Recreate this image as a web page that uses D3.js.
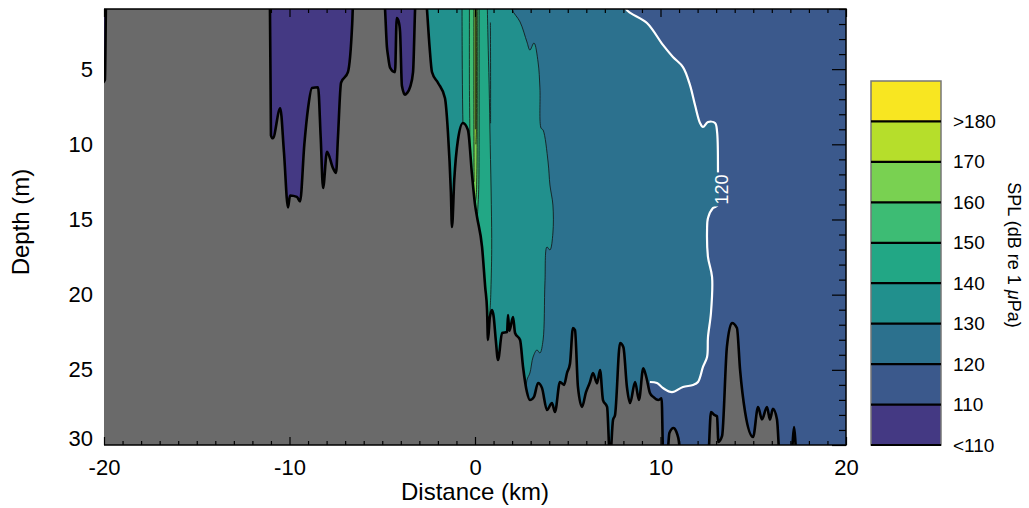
<!DOCTYPE html>
<html><head><meta charset="utf-8">
<script src="https://cdn.jsdelivr.net/npm/d3@7"></script>
<style>
body{margin:0;background:#fff}
svg{display:block}
text{font-family:"Liberation Sans",Arial,Helvetica,sans-serif;fill:#000}
</style>
</head><body>
<svg id="chart" width="1029" height="508"></svg>
<script>
// ---------------- data ----------------
const distanceTicks = [-20, -10, 0, 10, 20];
const distanceMinorTicks = [-19,-18,-17,-16,-15,-14,-13,-12,-11,-9,-8,-7,-6,-5,-4,-3,-2,-1,1,2,3,4,5,6,7,8,9,11,12,13,14,15,16,17,18,19];
const depthTicks = [5, 10, 15, 20, 25, 30];
const depthMinorTicks = [1,2,3,4,6,7,8,9,11,12,13,14,16,17,18,19,21,22,23,24,26,27,28,29];
const colorbarLabels = ["<110", "110", "120", "130", "140", "150", "160", "170", ">180"];
const bandColors = ["#443983", "#3b598c", "#2c718e", "#21908d", "#22a785", "#3dbc74", "#79d151", "#b6de2b", "#f8e621"];

// seabed depth (m) along distance (km); 0 = land / above water, 31 = below plotted range
const bathymetry = [
  [-20.05,5.9],[-19.95,5.7],[-19.88,0],
  [-11.06,0],[-11.0,9.4],[-10.9,9.6],[-10.5,7.6],[-10.3,10.5],[-10.08,14.2],[-9.97,13.4],[-9.6,13.5],[-9.43,13.8],[-9.2,10.0],[-9.0,7.6],[-8.79,6.25],[-8.46,6.2],[-8.32,9.5],[-8.19,12.9],[-7.98,10.5],[-7.65,11.6],[-7.49,11.9],[-7.39,9.6],[-7.22,5.9],[-6.85,5.2],[-6.62,2.0],[-6.55,0],
  [-4.9,0],[-4.85,1.0],[-4.75,3.5],[-4.69,4.1],[-4.58,4.9],[-4.31,5.2],[-4.22,1.6],[-4.12,1.8],[-4.04,2.5],[-3.94,6.1],[-3.77,6.7],[-3.67,6.6],[-3.5,6.2],[-3.34,5.2],[-3.23,1.0],[-3.2,0],
  [-2.65,0],[-2.59,1.0],[-2.45,3.5],[-2.32,5.19],[-1.99,5.92],[-1.62,6.92],[-1.46,9.18],[-1.3,13.2],[-1.24,15.5],[-1.12,12.4],[-0.92,9.71],[-0.65,8.58],[-0.38,9.05],[-0.16,12.04],[0.0,14.0],[0.11,14.84],[0.38,16.83],[0.55,19.5],[0.65,21.02],[0.70,23.02],[0.80,21.5],[0.92,21.02],[1.0,21.4],[1.12,23.0],[1.24,24.35],[1.46,22.55],[1.73,22.48],[1.78,21.35],[1.85,22.4],[2.05,21.49],[2.16,22.55],[2.43,23.02],[2.59,24.81],[2.80,26.48],[2.96,27.01],[3.18,26.8],[3.40,25.88],[3.61,26.2],[3.88,27.67],[4.15,27.21],[4.31,27.81],[4.58,25.81],[4.80,26.0],[4.96,25.21],[5.12,24.6],[5.28,22.22],[5.39,22.35],[5.55,26.14],[5.77,27.47],[5.98,26.5],[6.20,25.81],[6.36,25.21],[6.58,25.9],[6.74,25.01],[6.90,27.01],[7.12,27.47],[7.28,31],[7.44,28.34],[7.55,28.0],[7.82,23.22],[8.0,23.5],[8.19,26.14],[8.36,27.21],[8.63,25.81],[8.84,27.0],[9.07,24.9],[9.25,25.56],[9.43,26.54],[9.61,26.8],[9.88,27.01],[10.06,26.9],[10.15,31],[10.38,30.5],[10.48,29.2],[10.70,28.87],[10.85,29.1],[10.96,29.54],[11.14,31],
  [12.56,31],[12.72,27.81],[12.9,28.0],[13.05,28.1],[13.12,29.8],[13.32,29.4],[13.58,23.48],[13.85,21.89],[14.12,22.22],[14.29,25.01],[14.56,27.81],[14.99,29.47],[15.26,27.47],[15.47,28.3],[15.74,27.47],[15.90,28.3],[16.06,27.6],[16.28,28.3],[16.44,31],[16.98,31],[17.1,30.2],[17.20,28.8],[17.30,30.2],[17.41,31],[20.5,31]
];

// contour lines [distance km, depth m]
const contour120 = [[8.05,0],[8.14,1.0],[9.27,1.93],[10.13,3.39],[10.67,4.19],[11.21,4.86],[11.59,6.06],[11.86,7.39],[12.13,8.58],[12.29,8.85],[12.56,8.52],[12.94,8.58],[13.05,9.18],[13.10,11.84],[13.10,14.04],[12.83,14.24],[12.56,14.90],[12.51,15.70],[12.56,17.50],[12.78,18.83],[12.72,21.22],[12.56,22.82],[12.51,24.15],[12.29,24.81],[12.02,25.81],[11.75,26.01],[11.21,26.14],[10.62,26.48],[10.13,26.21],[9.81,25.88],[9.43,25.81]];
const contour130 = [[1.95,0],[1.99,1.0],[2.43,1.86],[2.80,3.19],[2.96,3.73],[3.18,3.26],[3.40,4.53],[3.50,6.25],[3.56,8.92],[3.67,9.05],[3.94,11.18],[4.04,12.71],[4.20,14.04],[4.20,15.90],[4.04,17.03],[3.88,16.83],[3.77,19.23],[3.67,23.02],[3.50,23.88],[3.34,23.68],[3.13,24.15],[2.96,25.21],[2.80,25.68],[2.72,27],[2.7,31]];
const contour140Left  = [[-0.70,0],[-0.69,4],[-0.66,8],[-0.60,11],[-0.55,16]];
const contour140Right = [[0.65,0],[0.70,3],[0.76,6],[0.82,10],[0.88,14],[0.9,17],[0.85,20],[0.8,21.5],[0.78,31]];
const contour140Sliver = [[0.83,1.9],[0.84,5],[0.84,8.6]];
const contour150Left  = [[-0.30,0],[-0.30,6],[-0.28,9],[-0.27,12]];
const contour150Right = [[0.22,0],[0.22,6],[0.22,10],[0.2,13],[0.15,14.3],[0.1,15.5]];
const contour160Left  = [[-0.06,0],[-0.06,8],[-0.05,12.5]];
const contour160Right = [[0.12,0],[0.12,8],[0.1,12],[0.06,13.5],[0.0,14]];
const contour170Left  = [[0.02,0],[0.02,9]];
const contour170Right = [[0.07,0],[0.07,9],[0.045,10]];
const label120 = [13.3, 13.0];

// ---------------- layout ----------------
const svg = d3.select("#chart");
const L = 104, R = 846, T = 9, B = 445;
const x = d3.scaleLinear().domain([-20, 20]).range([L, R]);
const y = d3.scaleLinear().domain([1, 30]).range([T, B]);
const line = d3.line().x(d => x(d[0])).y(d => y(d[1])).curve(d3.curveCatmullRom.alpha(0.5));
const poly = pts => line(pts) + "Z";

const defs = svg.append("defs");
defs.append("clipPath").attr("id", "clip")
  .append("rect").attr("x", L).attr("y", T).attr("width", R - L).attr("height", B - T);
const mask = defs.append("mask").attr("id", "lblmask").attr("maskUnits", "userSpaceOnUse");
mask.append("rect").attr("x", 0).attr("y", 0).attr("width", 1029).attr("height", 508).attr("fill", "#fff");
mask.append("rect").attr("x", x(label120[0]) - 10).attr("y", y(label120[1]) - 17)
  .attr("width", 20).attr("height", 34).attr("fill", "#000");

const plot = svg.append("g").attr("clip-path", "url(#clip)");

// base band 110-120
plot.append("rect").attr("x", L).attr("y", T).attr("width", R - L).attr("height", B - T).attr("fill", bandColors[1]);
// < 110 (left basins)
plot.append("path").attr("d", d3.line().x(d => x(d[0])).y(d => y(d[1]))([[-20.5,0],[-2.9,0],[-2.9,31],[-20.5,31]]) + "Z").attr("fill", bandColors[0]);
// 120-130
plot.append("path").attr("d", poly([[-2.9,0]].concat(contour120, [[9.43,31],[-2.9,31]]))).attr("fill", bandColors[2]);
// 130-140
plot.append("path").attr("d", poly([[-2.9,0]].concat(contour130, [[-2.9,31]]))).attr("fill", bandColors[3]);
// 140-150 .. 170-180
const inner = [
  [contour140Left, contour140Right, bandColors[4]],
  [contour150Left, contour150Right, bandColors[5]],
  [contour160Left, contour160Right, bandColors[6]],
  [contour170Left, contour170Right, bandColors[7]]
];
inner.forEach(([l, r, c]) => {
  plot.append("path").attr("d", poly(l.concat(r.slice().reverse()))).attr("fill", c);
});
// thin black contour lines
[contour130, contour140Left, contour140Right, contour140Sliver, contour150Left, contour150Right, contour160Left, contour160Right, contour170Left, contour170Right]
  .forEach(c => plot.append("path").attr("d", line(c)).attr("fill", "none").attr("stroke", "#111").attr("stroke-width", 0.8));

// ticks on top and right (under seabed)
const topAxis = svg.append("g").attr("transform", `translate(0,${T})`);
topAxis.append("g").call(d3.axisTop(x).tickValues(distanceTicks).tickSize(-8).tickFormat(""));
topAxis.append("g").call(d3.axisTop(x).tickValues(distanceMinorTicks).tickSize(-4).tickFormat(""));
const rightAxis = svg.append("g").attr("transform", `translate(${R},0)`);
rightAxis.append("g").call(d3.axisRight(y).tickValues(depthTicks).tickSize(-14).tickFormat(""));
rightAxis.append("g").call(d3.axisRight(y).tickValues(depthMinorTicks).tickSize(-7).tickFormat(""));
[topAxis, rightAxis].forEach(a => { a.selectAll(".domain").remove(); a.selectAll("line").attr("stroke", "#000").attr("stroke-width", 1.2); });

// seabed
const plot2 = svg.append("g").attr("clip-path", "url(#clip)");
plot2.append("path")
  .attr("d", d3.area().x(d => x(d[0])).y0(y(31)).y1(d => y(d[1])).curve(d3.curveMonotoneX)(bathymetry))
  .attr("fill", "#6a6a6a");
plot2.append("path").attr("d", d3.line().x(d => x(d[0])).y(d => y(d[1])).curve(d3.curveMonotoneX)(bathymetry))
  .attr("fill", "none").attr("stroke", "#000").attr("stroke-width", 2.6).attr("stroke-linejoin", "round");

// 120 dB contour (white) with label
plot2.append("path").attr("d", line(contour120)).attr("fill", "none")
  .attr("stroke", "#fff").attr("stroke-width", 2.2).attr("mask", "url(#lblmask)");
plot2.append("text")
  .attr("transform", `translate(${x(label120[0])},${y(label120[1])}) rotate(-90)`)
  .attr("text-anchor", "middle").attr("dominant-baseline", "central")
  .style("fill", "#fff").style("font-size", "18px").text("120");

// bottom axis
const bottomAxis = svg.append("g").attr("transform", `translate(0,${B})`);
bottomAxis.append("g").call(d3.axisBottom(x).tickValues(distanceMinorTicks).tickSize(-4).tickFormat(""));
bottomAxis.append("g").call(d3.axisBottom(x).tickValues(distanceTicks).tickSize(-8).tickPadding(14).tickFormat(d => String(d)));
bottomAxis.selectAll(".domain").remove();
bottomAxis.selectAll("line").attr("stroke", "#000").attr("stroke-width", 1.2);
bottomAxis.selectAll("text").style("font-size", "22px").style("font-family", "'Liberation Sans',Arial,sans-serif");

// left labels
const leftAxis = svg.append("g").attr("transform", `translate(${L},0)`)
  .call(d3.axisLeft(y).tickValues(depthTicks).tickSize(0).tickPadding(11).tickFormat(d => String(d)));
leftAxis.selectAll(".domain").remove();
leftAxis.selectAll("text").style("font-size", "22px").style("font-family", "'Liberation Sans',Arial,sans-serif");
// the bottom-most label sits slightly above the axis corner in the reference
leftAxis.selectAll(".tick").filter(d => d === 30).select("text").attr("y", -7);

// frame
svg.append("path").attr("d", `M${L},${T}H${R}V${B}H${L}`).attr("fill", "none").attr("stroke", "#000").attr("stroke-width", 1.5);

// axis titles
svg.append("text").attr("x", (L + R) / 2).attr("y", 500).attr("text-anchor", "middle")
  .style("font-size", "24px").text("Distance (km)");
svg.append("text").attr("transform", `translate(29,${(T + B) / 2 - 5}) rotate(-90)`).attr("text-anchor", "middle")
  .style("font-size", "24px").text("Depth (m)");

// colorbar
const cbX = 871, cbW = 70;
const cb = d3.scaleLinear().domain([0, bandColors.length]).range([445, 81]);
const cbg = svg.append("g");
cbg.selectAll("rect.band").data(bandColors).join("rect")
  .attr("x", cbX).attr("width", cbW)
  .attr("y", (d, i) => cb(i + 1)).attr("height", (d, i) => cb(i) - cb(i + 1))
  .attr("fill", d => d);
cbg.append("rect").attr("x", cbX).attr("y", cb(bandColors.length)).attr("width", cbW)
  .attr("height", cb(0) - cb(bandColors.length)).attr("fill", "none").attr("stroke", "#777").attr("stroke-width", 1.5);
cbg.selectAll("line.sep").data(colorbarLabels).join("line")
  .attr("x1", cbX).attr("x2", cbX + cbW)
  .attr("y1", (d, i) => cb(i)).attr("y2", (d, i) => cb(i))
  .attr("stroke", "#000").attr("stroke-width", 2.2);
cbg.selectAll("text.lab").data(colorbarLabels).join("text")
  .attr("x", 953).attr("y", (d, i) => cb(i)).attr("dominant-baseline", "central")
  .style("font-size", "19px").text(d => d);
const cbTitle = svg.append("text").attr("transform", "translate(1008,255) rotate(90)")
  .attr("text-anchor", "middle").style("font-size", "18px");
cbTitle.append("tspan").text("SPL (dB re 1 ");
cbTitle.append("tspan").style("font-style", "italic").text("\u03bc");
cbTitle.append("tspan").text("Pa)");
</script>
</body></html>
